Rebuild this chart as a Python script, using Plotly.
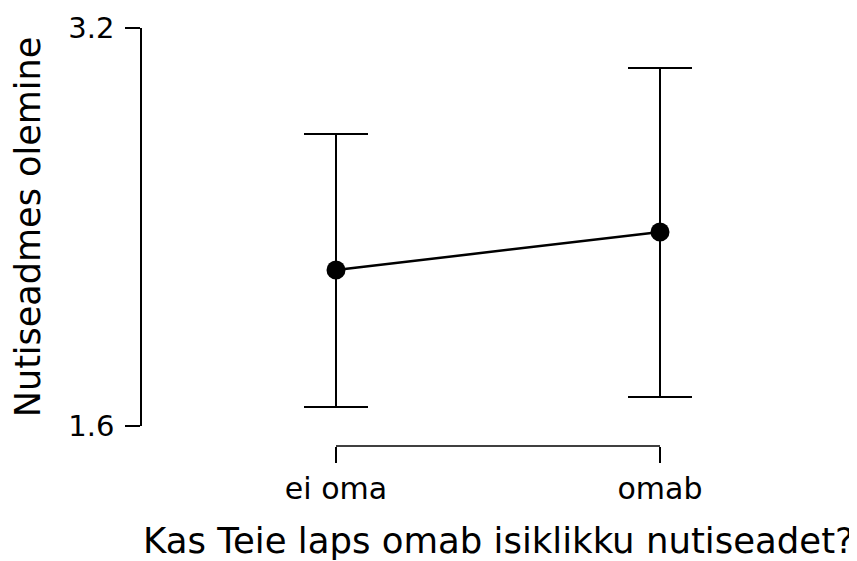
import plotly.graph_objects as go

categories = ["ei oma", "omab"]
means = [2.227, 2.380]
ci_lower = [1.676, 1.717]
ci_upper = [2.774, 3.039]
y_ticks = [1.6, 3.2]

x_pos = list(range(len(categories)))
err_plus = [u - m for u, m in zip(ci_upper, means)]
err_minus = [m - l for m, l in zip(means, ci_lower)]

FONT = "DejaVu Sans"
OFF = 8  # page body margin

fig = go.Figure()
fig.add_trace(go.Scatter(
    x=x_pos, y=means, mode="lines+markers",
    line=dict(color="black", width=2.5),
    marker=dict(color="black", size=19),
    error_y=dict(type="data", symmetric=False, array=err_plus, arrayminus=err_minus,
                 color="black", thickness=2, width=32),
    cliponaxis=False, showlegend=False, hoverinfo="skip",
))

L, R, T, B = 142 - OFF, 10, 28 - OFF, 100
W = 857 - L - R
H = 561 - T - B
px_per_unit = 324.0
a = -(336 - 142) / px_per_unit
b = a + W / px_per_unit
plot_bottom = T + H
ydom0 = (plot_bottom - (426 - OFF)) / H
xpos = (plot_bottom - (446 - OFF)) / H

# horizontal category-axis segment spanning the first to last category
fig.add_shape(type="line", xref="x", yref="paper",
              x0=x_pos[0], x1=x_pos[-1], y0=xpos, y1=xpos,
              line=dict(color="black", width=1.5))

fig.update_layout(
    width=857, height=561,
    margin=dict(l=L, r=R, t=T, b=B, autoexpand=False),
    paper_bgcolor="white", plot_bgcolor="white",
    font=dict(family=FONT, color="black"),
    xaxis=dict(
        range=[a, b], domain=[0, 1], anchor="free", position=xpos,
        showline=False, automargin=False,
        ticks="outside", ticklen=16, tickwidth=1.5, tickcolor="black",
        tickvals=x_pos, ticktext=categories, tickfont=dict(size=30),
        showgrid=False, zeroline=False,
        title=dict(text="Kas Teie laps omab isiklikku nutiseadet?", font=dict(size=35.5), standoff=23),
    ),
    yaxis=dict(
        domain=[ydom0, 1], range=[y_ticks[0], y_ticks[-1]], automargin=False,
        showline=True, linecolor="black", linewidth=1.5,
        ticks="outside", ticklen=15, tickwidth=1.5, tickcolor="black",
        ticklabelstandoff=5,
        tickvals=y_ticks, ticktext=[f"{v:.1f}" for v in y_ticks], tickfont=dict(size=29),
        showgrid=False, zeroline=False,
        title=dict(text="Nutiseadmes olemine", font=dict(size=35), standoff=17),
    ),
)

fig.write_html("out.html")
